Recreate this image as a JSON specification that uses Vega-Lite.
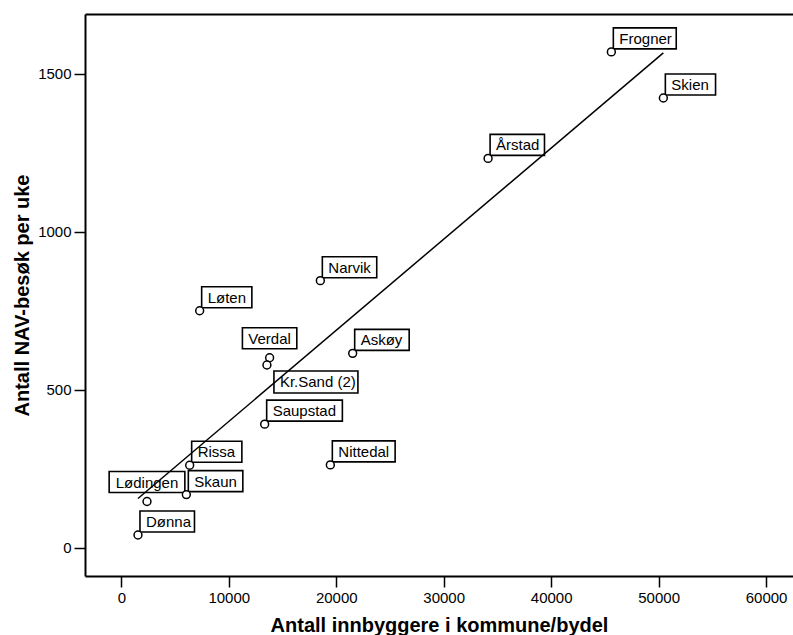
{
  "$schema": "https://vega.github.io/schema/vega-lite/v6.json",
  "width": 708,
  "height": 562,
  "autosize": "none",
  "padding": {"left": 85, "top": 14, "right": 0, "bottom": 59},
  "background": "white",
  "config": {
    "view": {"stroke": null},
    "font": "Liberation Sans",
    "axis": {
      "domain": true, "domainColor": "black", "domainWidth": 2, "grid": false, "ticks": true,
      "tickColor": "black", "tickWidth": 1.5, "tickSize": 11,
      "labelColor": "black", "labelFont": "Liberation Sans", "labelFontSize": 15, "labelPadding": 3,
      "titleFont": "Liberation Sans", "titleFontSize": 20, "titleFontWeight": "bold", "titleColor": "black"
    }
  },
  "data": {"values": [
    {"name": "Frogner", "pop": 45600, "visits": 1569},
    {"name": "Skien", "pop": 50440, "visits": 1423},
    {"name": "Årstad", "pop": 34130, "visits": 1232},
    {"name": "Narvik", "pop": 18520, "visits": 845},
    {"name": "Løten", "pop": 7290, "visits": 750},
    {"name": "Verdal", "pop": 13800, "visits": 601},
    {"name": "Kr.Sand (2)", "pop": 13550, "visits": 578},
    {"name": "Askøy", "pop": 21530, "visits": 615},
    {"name": "Saupstad", "pop": 13340, "visits": 391},
    {"name": "Nittedal", "pop": 19450, "visits": 262},
    {"name": "Rissa", "pop": 6360, "visits": 261},
    {"name": "Skaun", "pop": 6050, "visits": 168},
    {"name": "Lødingen", "pop": 2390, "visits": 146},
    {"name": "Dønna", "pop": 1550, "visits": 40}
  ]},
  "encoding": {
    "x": {"field": "pop", "type": "quantitative",
      "scale": {"domain": [-3380, 62505], "nice": false, "zero": false},
      "axis": {"values": [0, 10000, 20000, 30000, 40000, 50000, 60000], "format": "d",
        "title": "Antall innbyggere i kommune/bydel", "titleX": 354, "titleY": 55.7, "titleBaseline": "alphabetic"}},
    "y": {"field": "visits", "type": "quantitative",
      "scale": {"domain": [-89.6, 1689], "nice": false, "zero": false},
      "axis": {"values": [0, 500, 1000, 1500, 1689], "format": "d",
        "labelExpr": "datum.value > 1600 ? '' : datum.label",
        "grid": true, "gridColor": "black", "gridWidth": 2,
        "gridOpacity": {"condition": {"test": "datum.value > 1600", "value": 1}, "value": 0},
        "tickOpacity": {"condition": {"test": "datum.value > 1600", "value": 0}, "value": 1},
        "title": "Antall NAV-besøk per uke", "titleX": -56.7, "titleY": 281, "titleAngle": 270,
        "titleBaseline": "alphabetic", "titleAlign": "center"}}
  },
  "layer": [
    {
      "transform": [
        {"calculate": "length(replace(datum.name, /[^ijlrtf.,() ]/g, ''))", "as": "nn"},
        {"calculate": "12 + 8.5 * (length(datum.name) - datum.nn) + 4.2 * datum.nn", "as": "w"},
        {"calculate": "(datum.name === 'Verdal' || datum.name === 'Lødingen') ? 'M' + (-datum.w / 2) + ',-9h' + datum.w + 'v-21h' + (-datum.w) + 'z' : (datum.name === 'Kr.Sand (2)' ? 'M7,6h' + datum.w + 'v22h' + (-datum.w) + 'z' : 'M2,-3h' + datum.w + 'v-21h' + (-datum.w) + 'z')", "as": "boxpath"}
      ],
      "mark": {"type": "point", "filled": true, "fill": "white", "stroke": "black", "strokeWidth": 1.6, "size": 4, "opacity": 1},
      "encoding": {"shape": {"field": "boxpath", "type": "nominal", "scale": null}}
    },
    {
      "transform": [{"regression": "visits", "on": "pop"}],
      "mark": {"type": "line", "color": "black", "strokeWidth": 1.5},
      "encoding": {}
    },
    {
      "transform": [{"filter": "datum.name !== 'Verdal' && datum.name !== 'Lødingen' && datum.name !== 'Kr.Sand (2)'"}],
      "mark": {"type": "text", "align": "left", "baseline": "alphabetic", "dx": 8, "dy": -8, "fontSize": 15, "color": "black"},
      "encoding": {"text": {"field": "name"}}
    },
    {
      "transform": [{"filter": "datum.name === 'Verdal' || datum.name === 'Lødingen'"}],
      "mark": {"type": "text", "align": "center", "baseline": "alphabetic", "dx": 0, "dy": -14, "fontSize": 15, "color": "black"},
      "encoding": {"text": {"field": "name"}}
    },
    {
      "transform": [{"filter": "datum.name === 'Kr.Sand (2)'"}],
      "mark": {"type": "text", "align": "left", "baseline": "alphabetic", "dx": 13, "dy": 22.4, "fontSize": 15, "color": "black"},
      "encoding": {"text": {"field": "name"}}
    },
    {
      "mark": {"type": "point", "shape": "circle", "filled": true, "fill": "white", "stroke": "black", "strokeWidth": 1.5, "size": 62, "opacity": 1},
      "encoding": {}
    },
    {
      "data": {"values": [{"note": "R Sq Linear = 0,831"}]},
      "mark": {"type": "text", "align": "left", "baseline": "alphabetic", "fontSize": 13.5, "color": "black"},
      "encoding": {"x": {"datum": 49230}, "y": {"datum": 161}, "text": {"field": "note"}}
    }
  ]
}
